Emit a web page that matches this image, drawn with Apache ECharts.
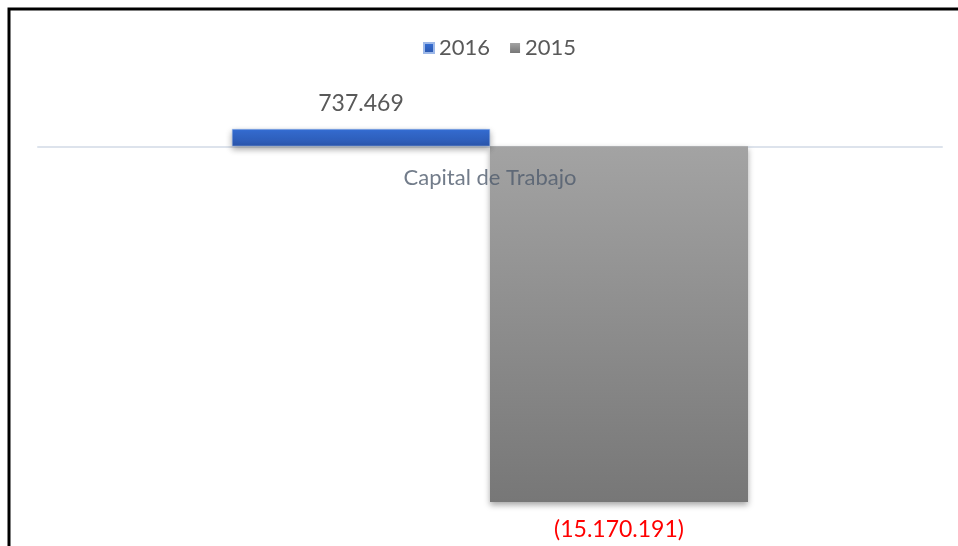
<!DOCTYPE html>
<html>
<head>
<meta charset="utf-8">
<script src="https://cdn.jsdelivr.net/npm/echarts@6/dist/echarts.min.js"></script>
<style>
html, body { margin: 0; padding: 0; background: #fff; }
#main { width: 958px; height: 546px; }
</style>
</head>
<body>
<div id="main"></div>
<script>
// datos
var categorias = ['Capital de Trabajo'];
var anios = ['2016', '2015'];
var valores2016 = [737469];
var valores2015 = [-15170191];

// formato de miles con punto, negativos entre parentesis
function formato(v) {
	var s = Math.abs(v).toString().replace(/\B(?=(\d{3})+(?!\d))/g, '.');
	return v < 0 ? '(' + s + ')' : s;
}

var chart = echarts.init(document.getElementById('main'));

var option = {
	backgroundColor: '#fff',
	textStyle: { fontFamily: 'Lato' },
	legend: {
		top: 32,
		left: 418,
		itemWidth: 10,
		itemHeight: 10,
		itemGap: 20,
		icon: 'rect',
		textStyle: { fontSize: 22, color: '#595959', fontFamily: 'Lato' },
		data: anios
	},
	graphic: [{
		type: 'polyline',
		shape: { points: [[9, 546], [9, 9], [958, 9]] },
		style: { stroke: '#000', lineWidth: 3, fill: null }
	}],
	grid: { left: 38, right: 16, top: 129, bottom: 44 },
	xAxis: {
		type: 'category',
		data: categorias,
		axisLine: { onZero: true, lineStyle: { color: '#dde3ec', width: 2 } },
		axisTick: { show: false },
		axisLabel: { show: false },
		z: 1
	},
	yAxis: {
		type: 'value',
		min: 'dataMin',
		max: 'dataMax',
		show: false,
		splitLine: { show: false }
	},
	series: [{
		name: anios[0],
		type: 'bar',
		barWidth: 258,
		barGap: '0%',
		data: valores2016,
		z: 3,
		itemStyle: {
			color: new echarts.graphic.LinearGradient(0, 0, 0, 1, [
				{ offset: 0, color: '#3670d8' },
				{ offset: 1, color: '#2a55ab' }
			]),
			borderColor: '#9db8e8',
			borderWidth: 0.5,
			shadowColor: 'rgba(0,0,0,0.35)',
			shadowBlur: 6,
			shadowOffsetY: 3
		},
		label: {
			show: true,
			position: 'top',
			distance: 14,
			fontSize: 23,
			color: '#595959',
			fontFamily: 'Lato',
			formatter: function (p) { return formato(p.value); }
		}
	}, {
		name: anios[1],
		type: 'bar',
		barWidth: 258,
		data: valores2015,
		z: 2,
		itemStyle: {
			color: new echarts.graphic.LinearGradient(0, 0, 0, 1, [
				{ offset: 0, color: '#a3a3a3' },
				{ offset: 1, color: '#777777' }
			]),
			shadowColor: 'rgba(0,0,0,0.35)',
			shadowBlur: 6,
			shadowOffsetY: 3
		},
		label: {
			show: true,
			position: 'bottom',
			distance: 16,
			fontSize: 23,
			color: '#ff0000',
			fontFamily: 'Lato',
			formatter: function (p) { return formato(p.value); }
		}
	}, {
		// etiqueta de la categoria sobre el eje en cero
		type: 'scatter',
		data: [[categorias[0], 0]],
		symbolSize: 0,
		silent: true,
		z: 4,
		label: {
			show: true,
			position: 'bottom',
			distance: 21,
			fontSize: 22,
			color: '#4f5b6d',
			fontFamily: 'Lato',
			formatter: function (p) { return p.value[0]; }
		}
	}]
};

chart.setOption(option);
</script>
</body>
</html>
